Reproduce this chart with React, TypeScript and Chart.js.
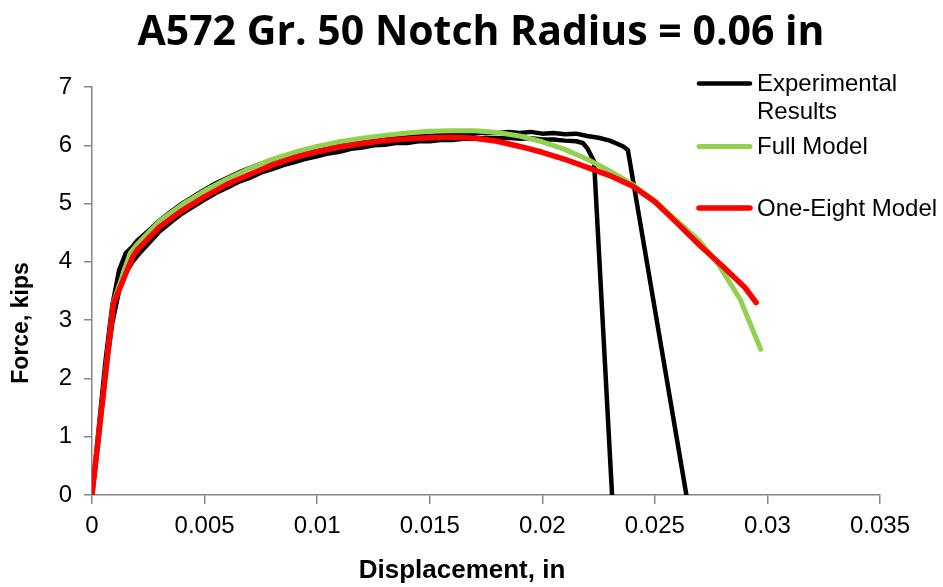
import React, { useEffect, useRef } from 'react';
import { Chart, registerables } from 'chart.js';

Chart.register(...registerables);

const chartTitle = 'A572 Gr. 50 Notch Radius = 0.06 in';
const xAxisTitle = 'Displacement, in';
const yAxisTitle = 'Force, kips';

const xTickLabels = ['0', '0.005', '0.01', '0.015', '0.02', '0.025', '0.03', '0.035'];
const yTickLabels = ['0', '1', '2', '3', '4', '5', '6', '7'];

const legendLabels = [['Experimental', 'Results'], ['Full Model'], ['One-Eight Model']];

// Experimental specimen 1 (fails first)
const exp1X = [0, 0.0003, 0.0006, 0.0009, 0.0012, 0.0015, 0.0018, 0.002, 0.0025, 0.003, 0.0035, 0.004, 0.0045, 0.005, 0.0055, 0.006, 0.0065, 0.007, 0.0075, 0.008, 0.0085, 0.009, 0.0095, 0.01, 0.0105, 0.011, 0.0115, 0.012, 0.0125, 0.013, 0.0135, 0.014, 0.0145, 0.015, 0.0155, 0.016, 0.0165, 0.017, 0.0175, 0.018, 0.0185, 0.019, 0.0195, 0.02, 0.0205, 0.021, 0.0215, 0.0218, 0.022, 0.0223, 0.0231];
const exp1Y = [0, 1.0, 2.1, 2.95, 3.5, 3.82, 4.0, 4.1, 4.31, 4.52, 4.68, 4.83, 4.95, 5.07, 5.18, 5.27, 5.37, 5.44, 5.53, 5.59, 5.66, 5.71, 5.77, 5.81, 5.86, 5.89, 5.94, 5.96, 6.0, 6.01, 6.04, 6.04, 6.07, 6.07, 6.09, 6.09, 6.11, 6.11, 6.13, 6.12, 6.13, 6.11, 6.12, 6.1, 6.1, 6.08, 6.07, 6.04, 5.95, 5.72, 0];

// Experimental specimen 2 (fails later)
const exp2X = [0, 0.0003, 0.0006, 0.0009, 0.0012, 0.0015, 0.0018, 0.002, 0.0025, 0.003, 0.0035, 0.004, 0.0045, 0.005, 0.0055, 0.006, 0.0065, 0.007, 0.0075, 0.008, 0.0085, 0.009, 0.0095, 0.01, 0.0105, 0.011, 0.0115, 0.012, 0.0125, 0.013, 0.0135, 0.014, 0.0145, 0.015, 0.0155, 0.016, 0.0165, 0.017, 0.0175, 0.018, 0.0185, 0.019, 0.0195, 0.02, 0.0205, 0.021, 0.0215, 0.022, 0.0225, 0.023, 0.0233, 0.0236, 0.0238, 0.0264];
const exp2Y = [0, 1.15, 2.3, 3.25, 3.85, 4.15, 4.26, 4.36, 4.53, 4.71, 4.86, 5.0, 5.12, 5.24, 5.35, 5.44, 5.53, 5.61, 5.68, 5.75, 5.81, 5.86, 5.91, 5.95, 5.99, 6.02, 6.05, 6.07, 6.1, 6.11, 6.13, 6.14, 6.16, 6.16, 6.18, 6.18, 6.2, 6.2, 6.22, 6.21, 6.23, 6.21, 6.23, 6.2, 6.21, 6.19, 6.2, 6.16, 6.13, 6.08, 6.03, 5.98, 5.92, 0];

// Full model
const fullX = [0, 0.00095, 0.0017, 0.002, 0.003, 0.004, 0.005, 0.006, 0.007, 0.008, 0.009, 0.01, 0.011, 0.012, 0.013, 0.014, 0.015, 0.016, 0.017, 0.018, 0.019, 0.02, 0.021, 0.022, 0.023, 0.024, 0.025, 0.026, 0.027, 0.0278, 0.0288, 0.0297];
const fullY = [0, 3.3, 4.15, 4.3, 4.7, 4.98, 5.22, 5.42, 5.6, 5.76, 5.88, 5.98, 6.06, 6.12, 6.17, 6.21, 6.24, 6.25, 6.25, 6.22, 6.16, 6.06, 5.93, 5.76, 5.56, 5.33, 5.05, 4.7, 4.35, 3.97, 3.35, 2.5];

// One-eighth model
const eighthX = [0, 0.00095, 0.0018, 0.002, 0.003, 0.004, 0.005, 0.006, 0.007, 0.008, 0.009, 0.01, 0.011, 0.012, 0.013, 0.014, 0.015, 0.016, 0.017, 0.018, 0.019, 0.02, 0.021, 0.022, 0.023, 0.024, 0.025, 0.026, 0.027, 0.028, 0.029, 0.0295];
const eighthY = [0, 3.28, 4.08, 4.2, 4.6, 4.88, 5.12, 5.33, 5.5, 5.66, 5.79, 5.89, 5.97, 6.03, 6.08, 6.11, 6.13, 6.14, 6.12, 6.07, 5.98, 5.88, 5.76, 5.62, 5.48, 5.3, 5.03, 4.66, 4.28, 3.93, 3.56, 3.3];

const BLACK = '#000000';
const GREEN = '#92D050';
const RED = '#FF0000';

const toPoints = (xs: number[], ys: number[]) => xs.map((x, i) => ({ x, y: ys[i] }));

const overlayPlugin = {
  id: 'overlay',
  afterDraw(chart: any) {
    const ctx: CanvasRenderingContext2D = chart.ctx;
    ctx.save();
    ctx.fillStyle = '#000';
    // Chart title
    ctx.textAlign = 'center';
    ctx.textBaseline = 'alphabetic';
    ctx.font = 'bold 41px "Open Sans"';
    ctx.fillText(chartTitle, 481, 45);
    // X axis title
    ctx.font = 'bold 26px "Liberation Sans"';
    ctx.fillText(xAxisTitle, 462, 578);
    // Y axis title
    ctx.save();
    ctx.translate(28, 323);
    ctx.rotate(-Math.PI / 2);
    ctx.font = 'bold 23px "Liberation Sans"';
    ctx.fillText(yAxisTitle, 0, 0);
    ctx.restore();
    // Legend
    const colors = [BLACK, GREEN, RED];
    const widths = [4.5, 5, 5.5];
    const lineYs = [83.5, 146.5, 208];
    ctx.font = '24px "Liberation Sans"';
    ctx.textAlign = 'left';
    ctx.textBaseline = 'middle';
    legendLabels.forEach((lines, i) => {
      ctx.beginPath();
      ctx.strokeStyle = colors[i];
      ctx.lineWidth = widths[i];
      ctx.lineCap = 'round';
      ctx.moveTo(699, lineYs[i]);
      ctx.lineTo(750, lineYs[i]);
      ctx.stroke();
      lines.forEach((t, j) => {
        ctx.fillText(t, 757, lineYs[i] + 1 + j * 28);
      });
    });
    ctx.restore();
  },
};

export default function App() {
  const ref = useRef<HTMLCanvasElement>(null);
  useEffect(() => {
    document.body.style.margin = '0';
    const canvas = ref.current!;
    const mk = (label: string, xs: number[], ys: number[], color: string, width: number, order: number) => ({
      label,
      data: toPoints(xs, ys),
      showLine: true,
      borderColor: color,
      backgroundColor: color,
      borderWidth: width,
      pointRadius: 0,
      borderCapStyle: 'round',
      borderJoinStyle: 'round',
      order,
    });
    const chart = new Chart(canvas, {
      type: 'scatter',
      data: {
        datasets: [
          mk('One-Eight Model', eighthX, eighthY, RED, 5.5, 0),
          mk('Full Model', fullX, fullY, GREEN, 5, 1),
          mk('Experimental Results', exp2X, exp2Y, BLACK, 4.5, 2),
          mk('Experimental Results 2', exp1X, exp1Y, BLACK, 4.5, 3),
        ],
      },
      options: {
        responsive: false,
        animation: false,
        devicePixelRatio: 1,
        layout: { padding: { top: 87, right: 63, left: 0, bottom: 0 } },
        plugins: {
          legend: { display: false },
          title: { display: false },
          tooltip: { enabled: false },
        },
        elements: { line: { tension: 0 } },
        scales: {
          x: {
            type: 'linear',
            min: 0,
            max: 0.035,
            afterFit: (s: any) => { s.height = 92; },
            border: { display: true, color: '#868686', width: 1.5 },
            grid: { display: true, drawOnChartArea: false, drawTicks: true, tickLength: 9, color: '#868686', lineWidth: 1.5 },
            ticks: {
              stepSize: 0.005,
              padding: 8,
              color: '#000',
              font: { family: '"Liberation Sans"', size: 24 },
              maxRotation: 0,
              autoSkip: false,
              callback: (_v: any, i: number) => xTickLabels[i],
            },
          },
          y: {
            type: 'linear',
            min: 0,
            max: 7,
            afterFit: (s: any) => { s.width = 92; },
            border: { display: true, color: '#868686', width: 1.5 },
            grid: { display: true, drawOnChartArea: false, drawTicks: true, tickLength: 8, color: '#868686', lineWidth: 1.5 },
            ticks: {
              stepSize: 1,
              padding: 12,
              color: '#000',
              font: { family: '"Liberation Sans"', size: 24 },
              autoSkip: false,
              callback: (_v: any, i: number) => yTickLabels[i],
            },
          },
        },
      },
      plugins: [overlayPlugin],
    } as any);
    return () => chart.destroy();
  }, []);
  return (
    <div style={{ width: 943, height: 587 }}>
      <canvas ref={ref} width={943} height={587} style={{ display: 'block' }} />
    </div>
  );
}
